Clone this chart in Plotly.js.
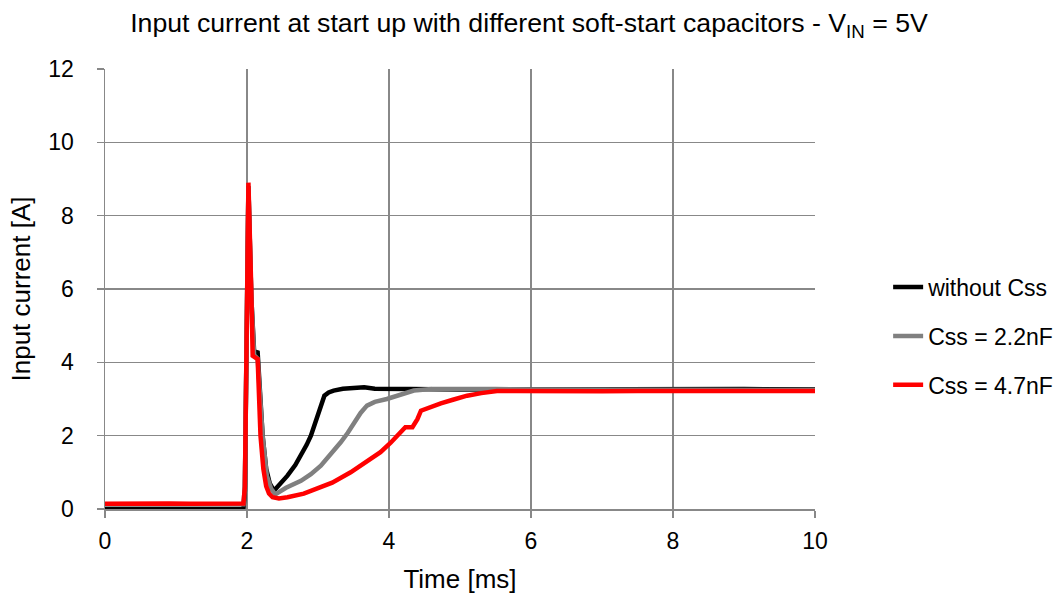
<!DOCTYPE html>
<html>
<head>
<meta charset="utf-8">
<script src="https://cdn.plot.ly/plotly-3.0.1.min.js"></script>
<style>html,body{margin:0;padding:0;background:#fff;}#chart{width:1058px;height:599px;}</style>
</head>
<body>
<div id="chart"></div>
<script>
// Time [ms] and Input current [A]
const tNoCss = [0, 0.5, 1.0, 1.5, 1.95, 1.97, 2.02, 2.06, 2.10, 2.15, 2.18, 2.22, 2.27, 2.32, 2.38, 2.45, 2.57, 2.68, 2.76, 2.84, 2.90, 2.95, 2.99, 3.04, 3.09, 3.15, 3.22, 3.35, 3.50, 3.65, 3.80, 3.97, 4.3, 5, 6, 7, 8, 9, 10];
const iNoCss = [0.0, 0.0, 0.0, 0.0, 0.0, 0.5, 8.8, 5.8, 4.3, 4.27, 3.2, 2.0, 1.1, 0.7, 0.5, 0.64, 0.91, 1.2, 1.45, 1.75, 2.0, 2.3, 2.55, 2.85, 3.09, 3.18, 3.23, 3.28, 3.30, 3.32, 3.28, 3.27, 3.27, 3.26, 3.27, 3.27, 3.26, 3.27, 3.26];

const tCss22 = [0, 0.5, 1.0, 1.5, 1.95, 1.97, 2.02, 2.06, 2.10, 2.15, 2.18, 2.22, 2.28, 2.34, 2.40, 2.55, 2.76, 2.90, 3.04, 3.18, 3.32, 3.42, 3.51, 3.60, 3.69, 3.80, 3.97, 4.15, 4.35, 4.60, 5.0, 5.5, 6, 7, 8, 9, 10];
const iCss22 = [0.12, 0.13, 0.12, 0.13, 0.13, 0.6, 8.8, 5.8, 4.2, 4.1, 3.1, 2.0, 0.9, 0.55, 0.4, 0.58, 0.77, 0.95, 1.18, 1.48, 1.82, 2.08, 2.36, 2.62, 2.82, 2.92, 3.0, 3.12, 3.23, 3.27, 3.28, 3.27, 3.26, 3.26, 3.25, 3.25, 3.24];

const tCss47 = [0, 0.3, 0.6, 0.9, 1.2, 1.5, 1.8, 1.95, 1.97, 2.02, 2.06, 2.08, 2.15, 2.19, 2.23, 2.27, 2.31, 2.36, 2.45, 2.57, 2.80, 2.99, 3.20, 3.46, 3.70, 3.88, 4.02, 4.12, 4.23, 4.33, 4.40, 4.45, 4.55, 4.73, 4.90, 5.1, 5.3, 5.52, 5.8, 6.2, 6.6, 7.0, 7.5, 8.0, 8.5, 9.0, 9.5, 10];
const iCss47 = [0.14, 0.15, 0.14, 0.15, 0.14, 0.15, 0.14, 0.15, 0.6, 8.9, 6.0, 4.18, 4.09, 2.0, 1.1, 0.62, 0.42, 0.32, 0.29, 0.32, 0.42, 0.55, 0.72, 1.0, 1.3, 1.55, 1.8, 2.0, 2.23, 2.23, 2.45, 2.68, 2.76, 2.88, 2.98, 3.09, 3.16, 3.22, 3.22, 3.21, 3.23, 3.21, 3.22, 3.22, 3.20, 3.22, 3.21, 3.22];

const seriesNames = ['without Css', 'Css = 2.2nF', 'Css = 4.7nF'];
const seriesColors = ['#000000', '#808080', '#ff0000'];
const xTicks = [0, 2, 4, 6, 8, 10];
const yTicks = [0, 2, 4, 6, 8, 10, 12];

const FONT = '"Liberation Sans", Arial, sans-serif';
const grid = '#888888';

const data = [
  {x: tNoCss, y: iNoCss, name: seriesNames[0], legendgroup: 'a', mode: 'lines', line: {color: seriesColors[0], width: 4.5}},
  {x: tCss22, y: iCss22, name: seriesNames[1], legendgroup: 'b', mode: 'lines', line: {color: seriesColors[1], width: 4.5}},
  {x: tCss47, y: iCss47, name: seriesNames[2], legendgroup: 'c', mode: 'lines', line: {color: seriesColors[2], width: 4.5}}
];

const layout = {
  width: 1058, height: 599,
  margin: {l: 105, r: 243, t: 69, b: 90, autoexpand: false},
  paper_bgcolor: '#ffffff', plot_bgcolor: '#ffffff',
  font: {family: FONT, size: 23, color: '#000000'},
  title: {text: 'Input current at start up with different soft-start capacitors - V<sub>IN</sub> = 5V', x: 0.5, xanchor: 'center', y: 0.962, yanchor: 'middle', font: {family: FONT, size: 26.7, color: '#000'}},
  xaxis: {
    range: [0, 10], tickvals: xTicks, ticktext: xTicks.map(String),
    showgrid: true, gridcolor: grid, gridwidth: 1.5,
    showline: true, linecolor: grid, linewidth: 1.5,
    ticks: 'outside', ticklen: 7, tickcolor: grid, tickwidth: 1.5,
    ticklabelstandoff: 4,
    zeroline: false, mirror: false,
    title: {text: 'Time [ms]', font: {family: FONT, size: 26}, standoff: 16},
    tickfont: {family: FONT, size: 23}
  },
  yaxis: {
    range: [0, 12], tickvals: yTicks, ticktext: yTicks.map(String),
    showgrid: true, gridcolor: grid, gridwidth: 1.5,
    showline: true, linecolor: grid, linewidth: 1.5,
    ticks: 'outside', ticklen: 7, tickcolor: grid, tickwidth: 1.5,
    ticklabelstandoff: 18,
    zeroline: false,
    title: {text: 'Input current [A]', font: {family: FONT, size: 26}, standoff: 10},
    tickfont: {family: FONT, size: 23}
  },
  showlegend: true,
  legend: {x: 1.103, xanchor: 'left', y: 0.393, yanchor: 'middle', font: {family: FONT, size: 23}, traceorder: 'grouped', tracegroupgap: 16, itemwidth: 30, bgcolor: 'rgba(0,0,0,0)'}
};

Plotly.newPlot('chart', data, layout, {displayModeBar: false, staticPlot: true});
</script>
</body>
</html>
